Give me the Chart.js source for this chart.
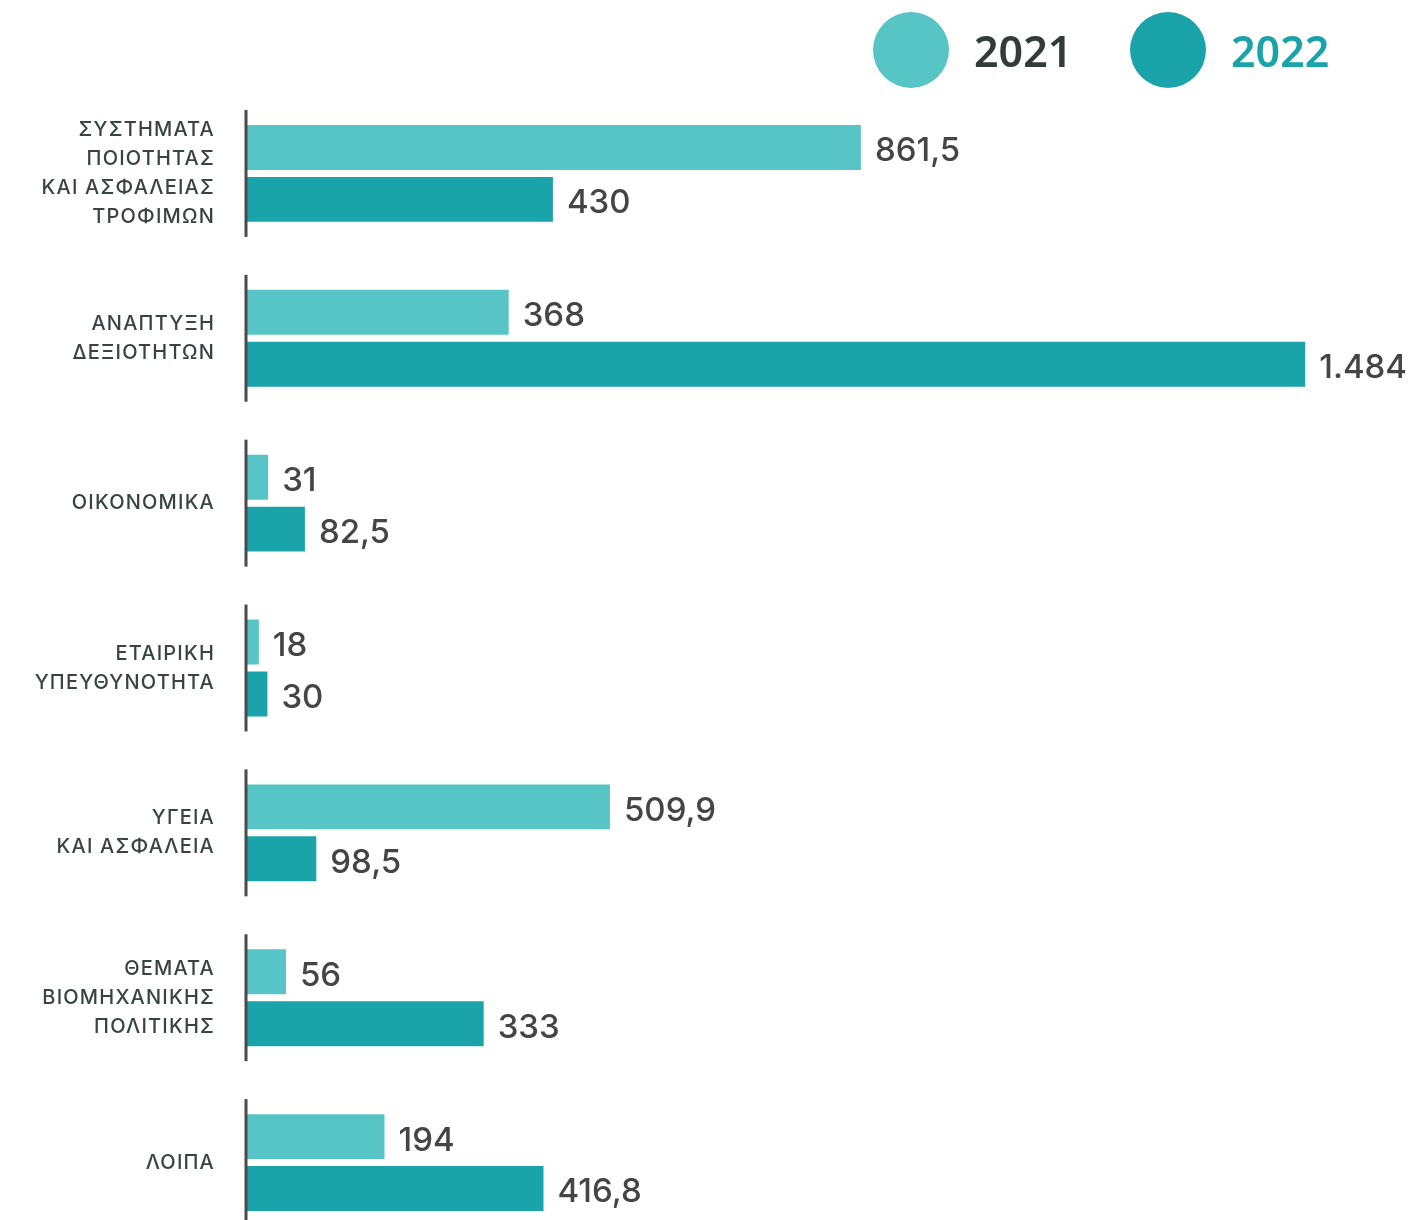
<script src="https://cdn.jsdelivr.net/npm/chart.js@4.4.0/dist/chart.umd.min.js"></script>
<style>
  body {
    margin: 0;
    background: #ffffff;
    overflow: hidden;
  }
</style>

<canvas id="bar-chart" width="1409" height="1260"></canvas>

<script>
var categories = [
  ['ΣΥΣΤΗΜΑΤΑ', 'ΠΟΙΟΤΗΤΑΣ', 'ΚΑΙ ΑΣΦΑΛΕΙΑΣ', 'ΤΡΟΦΙΜΩΝ'],
  ['ΑΝΑΠΤΥΞΗ', 'ΔΕΞΙΟΤΗΤΩΝ'],
  ['ΟΙΚΟΝΟΜΙΚΑ'],
  ['ΕΤΑΙΡΙΚΗ', 'ΥΠΕΥΘΥΝΟΤΗΤΑ'],
  ['ΥΓΕΙΑ', 'ΚΑΙ ΑΣΦΑΛΕΙΑ'],
  ['ΘΕΜΑΤΑ', 'ΒΙΟΜΗΧΑΝΙΚΗΣ', 'ΠΟΛΙΤΙΚΗΣ'],
  ['ΛΟΙΠΑ']
];
var values2021 = [861.5, 368, 31, 18, 509.9, 56, 194];
var values2022 = [430, 1484, 82.5, 30, 98.5, 333, 416.8];
var seriesNames = ['2021', '2022'];
var barColors = ['#57c5c6', '#1aa3a9'];
var legendTextColors = ['#333b3b', '#1aa3a9'];

var FONT = 'Inter, "Noto Sans", sans-serif';

// greek number format: 1.484 / 861,5
function fmt(v) {
  var parts = String(v).split('.');
  var intPart = parts[0].replace(/\B(?=(\d{3})+(?!\d))/g, '.');
  return parts.length > 1 ? intPart + ',' + parts[1] : intPart;
}

// letter spacing only for the category labels
var spacingPlugin = {
  id: 'spacing',
  beforeDraw: function(chart) { chart.ctx.letterSpacing = '1.2px'; },
  beforeDatasetsDraw: function(chart) { chart.ctx.letterSpacing = '0px'; }
};

// short axis segment per group + value labels + legend
var marksPlugin = {
  id: 'marks',
  afterDatasetsDraw: function(chart) {
    var ctx = chart.ctx;
    var xs = chart.scales.x, ys = chart.scales.y;
    var x0 = xs.getPixelForValue(0);
    var half = ys.height / categories.length * 0.385;
    ctx.save();
    ctx.strokeStyle = '#4a4a4a';
    ctx.lineWidth = 3;
    for (var i = 0; i < categories.length; i++) {
      var yc = ys.getPixelForValue(i);
      ctx.beginPath();
      ctx.moveTo(x0, yc - half);
      ctx.lineTo(x0, yc + half);
      ctx.stroke();
    }
    ctx.font = '500 33px ' + FONT;
    ctx.fillStyle = '#454545';
    ctx.textAlign = 'left';
    ctx.textBaseline = 'middle';
    chart.data.datasets.forEach(function(ds, d) {
      chart.getDatasetMeta(d).data.forEach(function(bar, j) {
        ctx.fillText(fmt(ds.data[j]), bar.x + 14, bar.y + 4);
      });
    });
    ctx.restore();
  },
  afterDraw: function(chart) {
    var ctx = chart.ctx;
    var centers = [911, 1168];
    ctx.save();
    ctx.font = '600 43px "Noto Sans", sans-serif';
    ctx.textAlign = 'left';
    ctx.textBaseline = 'middle';
    chart.data.datasets.forEach(function(ds, d) {
      ctx.fillStyle = ds.backgroundColor;
      ctx.beginPath();
      ctx.arc(centers[d], 50, 38, 0, Math.PI * 2);
      ctx.fill();
      ctx.fillStyle = legendTextColors[d];
      ctx.fillText(ds.label, centers[d] + 63, 55);
    });
    ctx.restore();
  }
};

new Chart(document.getElementById('bar-chart'), {
  type: 'bar',
  data: {
    labels: categories,
    datasets: [
      { label: seriesNames[0], data: values2021, backgroundColor: barColors[0] },
      { label: seriesNames[1], data: values2022, backgroundColor: barColors[1] }
    ]
  },
  options: {
    indexAxis: 'y',
    responsive: false,
    animation: false,
    categoryPercentage: 0.63,
    barPercentage: 0.865,
    layout: { padding: { top: 91, bottom: 15, right: 21, left: 0 } },
    plugins: {
      legend: { display: false },
      tooltip: { enabled: false }
    },
    scales: {
      x: {
        display: false,
        min: 0,
        max: 1600
      },
      y: {
        afterFit: function(scale) {
          scale.width = 246;
          scale.paddingTop = 0;
          scale.paddingBottom = 0;
        },
        border: { display: false },
        grid: { display: false, drawTicks: false },
        ticks: {
          autoSkip: false,
          padding: 31,
          color: '#3a4242',
          font: { family: FONT, size: 20, weight: '500', lineHeight: 1.45 }
        }
      }
    }
  },
  plugins: [spacingPlugin, marksPlugin]
});
</script>
